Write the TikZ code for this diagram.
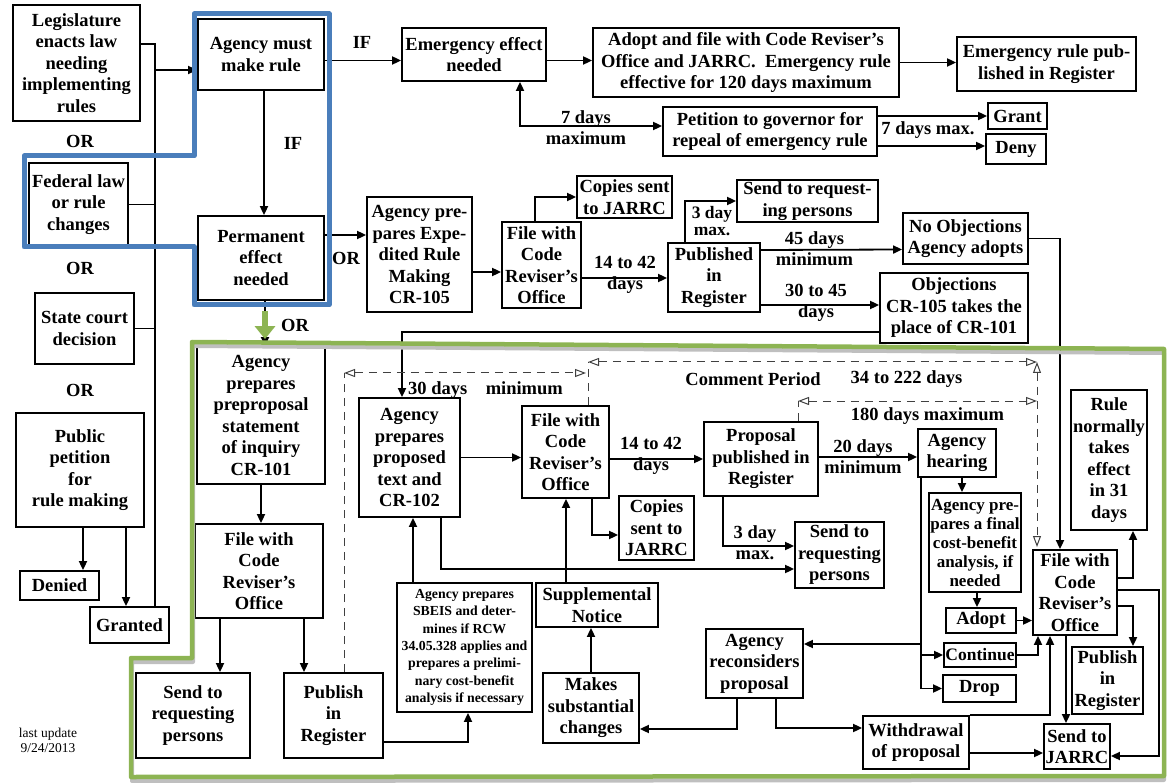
\documentclass[tikz,border=0pt]{standalone}
\usepackage{fontspec}
\setmainfont{Liberation Serif}
\usepackage{xcolor}
\usetikzlibrary{arrows.meta,positioning,calc}
\definecolor{outlineblue}{RGB}{74,126,187}
\definecolor{outlinegreen}{RGB}{141,180,83}

\begin{document}
\begin{tikzpicture}[
    x=1pt, y=-1pt,
    stage/.style={rectangle, draw, line width=1.8pt, fill=white, align=center,
        inner sep=1pt, font=\bfseries\fontsize{18.5}{21.5}\selectfont},
    small/.style={font=\bfseries\fontsize{13.8}{17.3}\selectfont},
    lbl/.style={align=center, inner sep=0pt, font=\bfseries\fontsize{18.5}{21}\selectfont},
    wire/.style={line width=1.8pt},
    arr/.style={line width=1.8pt, -{Triangle[length=9pt,width=8pt]}},
    both/.style={line width=1.8pt, {Triangle[length=9pt,width=8pt]}-{Triangle[length=9pt,width=8pt]}},
    dim/.style={line width=1pt, black!75, dash pattern=on 8pt off 6pt},
    dimarr/.style={dim, {Triangle[open,length=11pt,width=8pt]}-{Triangle[open,length=11pt,width=8pt]}},
    frame/.style={line width=4.5pt, line join=round}
]
    \useasboundingbox (0,0) rectangle (1167,783);

    % sources of a rule
    \node[stage, minimum width=127pt, minimum height=116pt] (legis) at (76.5,63) {Legislature\\enacts law\\needing\\implementing\\rules};
    \node[stage, minimum width=99pt, minimum height=83pt] (fedlaw) at (78.5,204.5) {Federal law\\or rule\\changes};
    \node[stage, minimum width=99pt, minimum height=71pt] (court) at (84.5,328.5) {State court\\decision};
    \node[stage, minimum width=128pt, minimum height=114pt] (petition) at (80,470) {Public\\petition\\for\\rule making};
    \node[stage, minimum width=79pt, minimum height=29pt] (denied) at (59.5,585.5) {Denied};
    \node[stage, minimum width=79pt, minimum height=36pt] (granted) at (129.5,625) {Granted};
    \node[lbl] (or1) at (80,141) {OR};
    \node[lbl] (or2) at (80,268) {OR};
    \node[lbl] (or3) at (80,390) {OR};

    \node[stage, minimum width=126pt, minimum height=71pt] (mustrule) at (261,54.5) {Agency must\\make rule};
    \node[stage, minimum width=126pt, minimum height=84pt] (permanent) at (261,258) {Permanent\\effect\\needed};

    % emergency rule
    \node[stage, minimum width=144pt, minimum height=53pt] (emerg) at (474,54.5) {Emergency effect\\needed};
    \node[stage, minimum width=306pt, minimum height=69pt] (adoptemerg) at (746,62.5) {Adopt and file with Code Reviser's\\Office and JARRC.~ Emergency rule\\effective for 120 days maximum};
    \node[stage, minimum width=179pt, minimum height=54pt] (emergpub) at (1046.5,64) {Emergency rule pub-\\lished in Register};
    \node[stage, minimum width=214pt, minimum height=49pt] (petgov) at (770,131.5) {Petition to governor for\\repeal of emergency rule};
    \node[stage, minimum width=59pt, minimum height=26pt] (grant) at (1017.5,116) {Grant};
    \node[stage, minimum width=60pt, minimum height=30pt] (deny) at (1016,149) {Deny};

    % expedited rule making
    \node[stage, minimum width=105pt, minimum height=115pt] (cr105) at (419.5,254.5) {Agency pre-\\pares Expe-\\dited Rule\\Making\\CR-105};
    \node[stage, minimum width=79pt, minimum height=86pt] (fileexp) at (541.5,265) {File with\\Code\\Reviser's\\Office};
    \node[stage, minimum width=95pt, minimum height=42pt] (copiesexp) at (624.5,197) {Copies sent\\to JARRC};
    \node[stage, minimum width=92pt, minimum height=69pt] (pubexp) at (714,277.5) {Published\\in\\Register};
    \node[stage, minimum width=141pt, minimum height=42pt] (sendexp) at (807.5,201) {Send to request-\\ing persons};
    \node[stage, minimum width=125pt, minimum height=51pt] (noobj) at (965.5,238.5) {No Objections\\Agency adopts};
    \node[stage, minimum width=148pt, minimum height=70pt] (obj) at (954,308) {Objections\\CR-105 takes the\\place of CR-101};

    % preproposal
    \node[stage, minimum width=128pt, minimum height=137pt] (cr101) at (261,415.5) {Agency\\prepares\\preproposal\\statement\\of inquiry\\CR-101};
    \node[stage, minimum width=128pt, minimum height=94pt] (filepre) at (259,571) {File with\\Code\\Reviser's\\Office};
    \node[stage, minimum width=114pt, minimum height=85pt] (sendpre) at (193,715.5) {Send to\\requesting\\persons};
    \node[stage, minimum width=99pt, minimum height=85pt] (pubpre) at (333.5,715.5) {Publish\\in\\Register};

    % proposal
    \node[stage, minimum width=101pt, minimum height=119pt] (cr102) at (409.5,457.5) {Agency\\prepares\\proposed\\text and\\CR-102};
    \node[stage, minimum width=87pt, minimum height=92pt] (fileprop) at (565.5,452) {File with\\Code\\Reviser's\\Office};
    \node[stage, minimum width=75pt, minimum height=64pt] (copiesprop) at (656.5,528) {Copies\\sent to\\JARRC};
    \node[stage, minimum width=114pt, minimum height=74pt] (proposal) at (761,459) {Proposal\\published in\\Register};
    \node[stage, minimum width=89pt, minimum height=66pt] (sendprop) at (839.5,555) {Send to\\requesting\\persons};
    \node[stage, small, minimum width=135pt, minimum height=129pt] (sbeis) at (464.5,647.5) {Agency prepares\\SBEIS and deter-\\mines if RCW\\34.05.328 applies and\\prepares a prelimi-\\nary cost-benefit\\analysis if necessary};
    \node[stage, minimum width=122pt, minimum height=44pt] (suppl) at (597,605) {Supplemental\\Notice};
    \node[stage, minimum width=96pt, minimum height=70pt] (makes) at (591,708) {Makes\\substantial\\changes};
    \node[stage, minimum width=97pt, minimum height=69pt] (reconsider) at (754.5,663.5) {Agency\\reconsiders\\proposal};
    \node[stage, minimum width=106pt, minimum height=53pt] (withdraw) at (916,742.5) {Withdrawal\\of proposal};

    % adoption
    \node[stage, minimum width=78pt, minimum height=48pt] (hearing) at (957,453) {Agency\\hearing};
    \node[stage, minimum width=92pt, minimum height=99pt, font=\bfseries\fontsize{17}{19}\selectfont] (finalcb) at (975,542.5) {Agency pre-\\pares a final\\cost-benefit\\analysis, if\\needed};
    \node[stage, minimum width=70pt, minimum height=25pt] (adopt) at (981,620.5) {Adopt};
    \node[stage, minimum width=72pt, minimum height=24pt, inner sep=0pt, font=\bfseries\fontsize{17.5}{20}\selectfont] (cont) at (980,655) {Continue};
    \node[stage, minimum width=73pt, minimum height=27pt] (drop) at (979.5,688.5) {Drop};
    \node[stage, minimum width=84pt, minimum height=85pt] (filefin) at (1075,592.5) {File with\\Code\\Reviser's\\Office};
    \node[stage, minimum width=76pt, minimum height=140pt] (rule31) at (1109,460) {Rule\\normally\\takes\\effect\\in 31\\days};
    \node[stage, minimum width=71pt, minimum height=67pt] (pubfin) at (1107.5,680.5) {Publish\\in\\Register};
    \node[stage, minimum width=66pt, minimum height=45pt] (jarrc) at (1077,746.5) {Send to\\JARRC};

    % edge labels
    \node[lbl] (ifa) at (362,42) {IF};
    \node[lbl] (ifb) at (293,143) {IF};
    \node[lbl] (or4) at (346,258) {OR};
    \node[lbl] (or5) at (295,325) {OR};
    \node[lbl] (t7max) at (586,127.5) {7 days\\maximum};
    \node[lbl] (t7) at (928,130) {7 days max.};
    \node[lbl] (t14a) at (625,275) {14 to 42\\days};
    \node[lbl, font=\bfseries\fontsize{17.5}{17}\selectfont] (t3a) at (712,221) {3 day\\max.};
    \node[lbl] (t45) at (814.5,248.5) {45 days\\minimum};
    \node[lbl] (t30) at (816,303) {30 to 45\\days};
    \node[lbl] (t30min) at (485.5,390) {30 days\quad minimum};
    \node[lbl] (comment) at (753,379) {Comment Period};
    \node[lbl] (t34) at (906.5,379) {34 to 222 days};
    \node[lbl] (t180) at (927.5,416) {180 days maximum};
    \node[lbl] (t14b) at (651,455.5) {14 to 42\\days};
    \node[lbl] (t3b) at (755,542.5) {3 day\\max.};
    \node[lbl] (t20) at (863,457) {20 days\\minimum};
    \node[align=center, inner sep=0pt, font=\fontsize{13.5}{15}\selectfont] (update) at (48,740) {last update\\9/24/2013};

    % bends and free ends
    \coordinate (bus) at (155,44);
    \coordinate (busout) at (155,70);
    \coordinate (trunk) at ([xshift=-36pt]hearing.south);
    \coordinate (rcin) at ([yshift=19.5pt]reconsider.east);
    \coordinate (dl) at (344,373);
    \coordinate (dr) at (586,373);
    \coordinate (cl) at (588,362);
    \coordinate (cr) at (1037,362);
    \coordinate (ml) at (798,401);
    \coordinate (mr) at (1037,401);
    \coordinate (cb) at (1037,547);

    % left column
    \draw[wire] ([yshift=19pt]legis.east) -| ([xshift=25.5pt]granted.north);
    \draw[wire] (fedlaw.east) -- (fedlaw.east -| bus);
    \draw[wire] (court.east) -- (court.east -| bus);
    \draw[arr] (busout) -- (busout -| mustrule.west);
    \draw[arr] ([xshift=3pt]petition.south) -- ([xshift=3pt]petition.south |- denied.north);
    \draw[arr] ([xshift=46pt]petition.south) -- ([xshift=46pt]petition.south |- granted.north);
    \draw[arr] ([xshift=3pt]mustrule.south) -- ([xshift=3pt]permanent.north);

    % emergency
    \draw[arr] ([yshift=-6pt]mustrule.east) -- ([yshift=-6pt]emerg.west);
    \draw[arr] ([yshift=-6pt]emerg.east) -- ([yshift=2pt]adoptemerg.west);
    \draw[arr] (adoptemerg.east) -- (adoptemerg.east -| emergpub.west);
    \draw[both] ([xshift=46pt]emerg.south) |- ([yshift=5.5pt]petgov.west);
    \draw[arr] (petgov.east |- grant.west) -- (grant.west);
    \draw[arr] ([yshift=3pt]petgov.east |- deny.west) -- ([yshift=3pt]deny.west);

    % expedited
    \draw[arr] ([yshift=23pt]permanent.east) -- ([yshift=19.5pt]cr105.west);
    \draw[arr] ([yshift=-17.5pt]cr105.east) -- ([yshift=-7pt]fileexp.west);
    \draw[arr] ([xshift=-6.5pt]fileexp.north) |- (copiesexp.west);
    \draw[arr] ([yshift=-13pt]fileexp.east) -- ([yshift=-0.5pt]pubexp.west);
    \draw[arr] ([xshift=-29pt]pubexp.north) |- (sendexp.west);
    \draw[arr] ([yshift=27.5pt]pubexp.east) -- ([yshift=-11pt]noobj.west);
    \draw[arr] ([yshift=-27.5pt]pubexp.east) -- ([yshift=3pt]obj.west);
    \draw[arr] ([yshift=-24pt]obj.west) -| ([xshift=-7.5pt]cr102.north);
    \draw[arr] (noobj.east) -| ([xshift=-15pt]filefin.north);

    % preproposal
    \draw[arr] ([xshift=4pt]permanent.south) -- ([xshift=4pt]cr101.north);
    \draw[arr] (cr101.south) -- (cr101.south |- filepre.north);
    \draw[arr] ([xshift=-39pt]filepre.south) -- ([xshift=-39pt]filepre.south |- sendpre.north);
    \draw[arr] ([xshift=45pt]filepre.south) -- ([xshift=45pt]filepre.south |- pubpre.north);
    \draw[arr] ([yshift=-26.5pt]pubpre.east) -| ([xshift=3.5pt]sbeis.south);
    \draw[arr] ([xshift=-51.5pt]sbeis.north) -- ([xshift=-51.5pt]sbeis.north |- cr102.south);

    % proposal
    \draw[arr] (cr102.east) -- (cr102.east -| fileprop.west);
    \draw[arr] (proposal.west -| fileprop.east) -- (proposal.west);
    \draw[arr] ([xshift=26.5pt]fileprop.south) |- ([yshift=-7pt]copiesprop.west);
    \draw[arr] ([xshift=31.5pt]cr102.south) |- ([yshift=-14pt]sendprop.west);
    \draw[arr] ([xshift=-38pt]proposal.south) |- ([yshift=9pt]sendprop.west);
    \draw[arr] ([xshift=-31pt]suppl.north) -- ([xshift=-31pt]suppl.north |- fileprop.south);
    \draw[arr] (makes.north) -- (makes.north |- suppl.south);
    \draw[arr] ([xshift=-17.5pt]reconsider.south) |- ([yshift=-21pt]makes.east);
    \draw[arr] ([xshift=21.5pt]reconsider.south) |- ([yshift=14.5pt]withdraw.west);

    % hearing and adoption
    \draw[arr] ([yshift=2pt]proposal.east) -- ([yshift=-4pt]hearing.west);
    \draw[arr] ([xshift=5pt]hearing.south) -- ([xshift=-13pt]finalcb.north);
    \draw[arr] ([xshift=2pt]finalcb.south) -- ([xshift=-4pt]adopt.north);
    \draw[arr] (adopt.east) -- (adopt.east -| filefin.west);
    \draw[arr] (trunk) |- (drop.west);
    \draw[arr] (cont.west -| trunk) -- (cont.west);
    \draw[arr] (rcin -| trunk) -- (rcin);
    \draw[arr] (cont.east) -| ([xshift=-37pt]filefin.south);
    \draw[arr] (withdraw.north east) -| ([xshift=-25pt]filefin.south);
    \draw[arr] ([yshift=-10.5pt]withdraw.east) -- ([yshift=-6.5pt]jarrc.west);
    \draw[arr] ([xshift=-9pt]filefin.south) -- ([xshift=-11pt]jarrc.north);
    \draw[arr] ([yshift=14.5pt]filefin.east) -| ([xshift=24pt]rule31.south);
    \draw[arr] ([yshift=-13.5pt]filefin.east) -| ([xshift=25.5pt]pubfin.north);
    \draw[arr] ([yshift=2.5pt]filefin.east) -- ++(41,0) |- ([yshift=-9.5pt]jarrc.east);

    % time spans
    \draw[dim] ([xshift=10.5pt]pubpre.north) -- (dl);
    \draw[dimarr] (dl) -- (dr);
    \draw[dim] ([xshift=22.5pt]fileprop.north) -- (cl);
    \draw[dimarr] (cl) -- (cr);
    \draw[dimarr] (cr) -- (cb);
    \draw[dim] ([xshift=37pt]proposal.north) -- (ml);
    \draw[dimarr] (ml) -- (mr);

    % highlight frames
    \draw[frame, black!25, line width=4pt] (193,346) -- (1164,353) -- (1164,780) -- (132,781) -- (132,662) -- (193,662) -- cycle;
    \draw[frame, outlinegreen] (192,342) -- (1164,349) -- (1164,776) -- (131,777) -- (131,658) -- (192,658) -- cycle;
    \draw[frame, outlineblue, line width=5pt] (194,14) -- (329,14) -- (329,305) -- (194,305) -- (194,247) -- (24,247) -- (24,156) -- (194,156) -- cycle;
    \draw[outlinegreen, line width=6pt, -{Triangle[length=13pt,width=20pt]}] ([xshift=4pt,yshift=-10pt]permanent.south) -- ([xshift=4pt,yshift=7pt]cr101.north);
\end{tikzpicture}
\end{document}
